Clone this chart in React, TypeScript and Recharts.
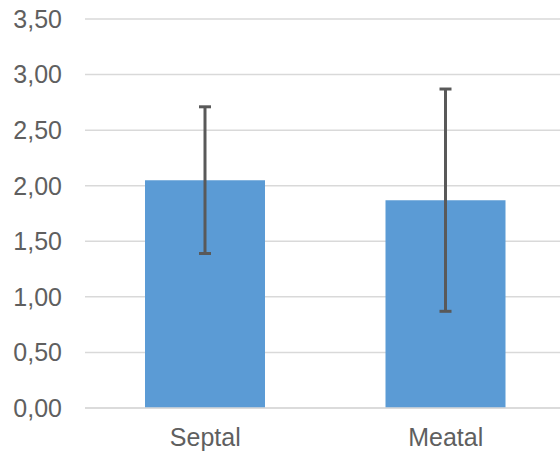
import React from 'react';
import { BarChart, Bar, XAxis, YAxis, CartesianGrid, ErrorBar } from 'recharts';

const categories = ['Septal', 'Meatal'];
const means = [2.05, 1.87];
const errors = [0.66, 1.0];
const yTicks = [0, 0.5, 1, 1.5, 2, 2.5, 3, 3.5];

const data = categories.map((name, i) => ({ name, value: means[i], err: errors[i] }));

const fmt = (v: number) => v.toFixed(2).replace('.', ',');

const tickStyle = { fill: '#5f5f5f', fontSize: 25, fontFamily: 'Liberation Sans, Arial, sans-serif' };

export default function App() {
  return (
    <div
      style={{
        position: 'absolute',
        left: 0,
        top: 0,
        width: 560,
        height: 455,
        overflow: 'hidden',
        background: '#fff',
      }}
    >
      <BarChart
        width={570}
        height={455}
        data={data}
        margin={{ top: 19, right: 4, bottom: 0, left: 0 }}
        barSize={120}
      >
        <CartesianGrid vertical={false} stroke="#D9D9D9" strokeWidth={1.5} />
        <XAxis
          dataKey="name"
          height={47}
          tickLine={false}
          axisLine={{ stroke: '#D9D9D9', strokeWidth: 1.5 }}
          tickSize={0}
          tickMargin={20}
          tick={tickStyle}
        />
        <YAxis
          width={85}
          domain={[0, 3.5]}
          ticks={yTicks}
          tickFormatter={fmt}
          axisLine={false}
          tickLine={false}
          tickSize={0}
          tickMargin={23}
          interval={0}
          tick={tickStyle}
        />
        <Bar dataKey="value" fill="#5B9BD5" isAnimationActive={false}>
          <ErrorBar dataKey="err" width={6} stroke="#595959" strokeWidth={3} isAnimationActive={false} />
        </Bar>
      </BarChart>
    </div>
  );
}
